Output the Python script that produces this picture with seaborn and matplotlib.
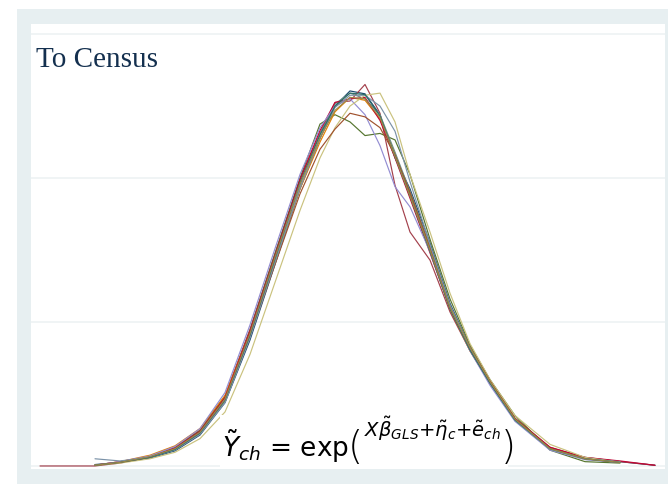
import numpy as np
import pandas as pd
import seaborn as sns
import matplotlib.pyplot as plt
from matplotlib.patches import Rectangle

nan = np.nan

# x grid (standardised log welfare) shared by all simulated densities
x_vals = [-3.30, -2.75, -2.50, -2.20, -1.95, -1.70, -1.45, -1.20, -0.95, -0.70, -0.50, -0.35, -0.20,
          -0.05, 0.10, 0.25, 0.40, 0.60, 0.80, 1.00, 1.20, 1.45, 1.80, 2.15, 2.50, 2.85]

navy = [nan, 0.002, 0.005, 0.011, 0.021, 0.043, 0.088, 0.175, 0.280, 0.385, 0.455, 0.500, 0.521,
        0.517, 0.488, 0.428, 0.385, 0.310, 0.226, 0.165, 0.118, 0.066, 0.025, 0.012, 0.006, 0.001]
maroon = [0.000, 0.000, 0.004, 0.013, 0.026, 0.050, 0.097, 0.190, 0.295, 0.398, 0.462, 0.505, 0.507,
          0.530, 0.490, 0.390, 0.325, 0.286, 0.214, 0.160, 0.115, 0.066, 0.026, 0.011, 0.006, 0.001]
green = [nan, 0.001, 0.005, 0.013, 0.025, 0.049, 0.096, 0.188, 0.295, 0.400, 0.475, 0.488, 0.478,
         0.459, 0.462, 0.453, 0.405, 0.315, 0.232, 0.168, 0.120, 0.070, 0.022, 0.006, 0.004, nan]
orange = [nan, 0.001, 0.006, 0.015, 0.028, 0.052, 0.098, 0.186, 0.284, 0.385, 0.450, 0.492, 0.512,
          0.508, 0.482, 0.434, 0.378, 0.300, 0.218, 0.160, 0.115, 0.064, 0.025, 0.011, 0.006, nan]
teal = [nan, 0.0015, 0.005, 0.012, 0.023, 0.045, 0.090, 0.180, 0.287, 0.390, 0.462, 0.503, 0.518,
        0.510, 0.488, 0.436, 0.382, 0.305, 0.222, 0.163, 0.116, 0.064, 0.023, 0.009, 0.005, nan]
cranberry = [nan, 0.001, 0.006, 0.013, 0.025, 0.048, 0.095, 0.187, 0.292, 0.398, 0.466, 0.505, 0.510,
             0.512, 0.480, 0.428, 0.372, 0.296, 0.219, 0.162, 0.118, 0.066, 0.026, 0.012, 0.007, 0.001]
lavender = [nan, 0.001, 0.006, 0.014, 0.027, 0.052, 0.102, 0.196, 0.302, 0.405, 0.470, 0.500, 0.510,
            0.488, 0.445, 0.388, 0.360, 0.298, 0.220, 0.160, 0.112, 0.062, 0.022, 0.009, 0.005, nan]
khaki = [nan, 0.001, 0.004, 0.010, 0.019, 0.038, 0.075, 0.155, 0.255, 0.355, 0.428, 0.470, 0.500,
         0.515, 0.518, 0.478, 0.405, 0.325, 0.240, 0.170, 0.120, 0.070, 0.030, 0.012, 0.005, nan]
sienna = [nan, 0.001, 0.005, 0.012, 0.024, 0.046, 0.092, 0.180, 0.280, 0.378, 0.440, 0.468, 0.490,
          0.485, 0.470, 0.432, 0.380, 0.303, 0.222, 0.165, 0.118, 0.066, 0.024, 0.010, 0.005, nan]
emidblue = [nan, 0.010, 0.007, 0.012, 0.022, 0.044, 0.088, 0.178, 0.283, 0.386, 0.455, 0.498, 0.515,
            0.515, 0.500, 0.465, 0.395, 0.308, 0.224, 0.164, 0.116, 0.063, 0.023, 0.010, 0.006, nan]
emerald = [nan, 0.001, 0.005, 0.012, 0.023, 0.046, 0.092, 0.182, 0.288, 0.394, 0.460, 0.500, 0.518,
           0.516, 0.486, 0.430, 0.375, 0.298, 0.218, 0.161, 0.115, 0.064, 0.024, 0.010, 0.005, nan]
brown = [nan, 0.001, 0.005, 0.013, 0.024, 0.047, 0.093, 0.184, 0.290, 0.392, 0.456, 0.494, 0.512,
         0.510, 0.484, 0.430, 0.375, 0.300, 0.220, 0.164, 0.117, 0.065, 0.024, 0.010, 0.005, nan]

runs = {"navy": navy, "maroon": maroon, "green": green, "orange": orange, "teal": teal,
        "cranberry": cranberry, "lavender": lavender, "khaki": khaki, "sienna": sienna,
        "emidblue": emidblue, "emerald": emerald, "brown": brown}

farger = {"navy": "#1a476f", "maroon": "#a3404c", "green": "#55752f", "orange": "#e37e00",
          "teal": "#6e8e84", "cranberry": "#c10534", "lavender": "#938dd2", "khaki": "#cac27e",
          "sienna": "#a0522d", "emidblue": "#7b92a8", "emerald": "#2d6d66", "brown": "#9c8847"}

rader = []
for namn, vals in runs.items():
    for xv, yv in zip(x_vals, vals):
        rader.append({"x": xv, "density": yv, "run": namn})
df = pd.DataFrame(rader).dropna()

sns.set_style("white")
plt.rcParams["mathtext.fontset"] = "dejavusans"

W, H = 668, 485
fig = plt.figure(figsize=(6.68, 4.85), dpi=100)
fig.patch.set_facecolor("white")
# grey slide frame behind the plot
fig.add_artist(Rectangle((17 / W, 0), 651 / W, 475 / H, transform=fig.transFigure,
                         facecolor="#e7eff1", edgecolor="none", zorder=-5))

ax = fig.add_axes([31 / W, 15 / H, 634 / W, 445 / H])
ax.set_zorder(1)
ax.set_facecolor("white")
for yg in [0, 0.2, 0.4, 0.6]:
    ax.axhline(yg, color="#edf2f3", lw=1.2, zorder=0)

sns.lineplot(data=df, x="x", y="density", hue="run", palette=farger, estimator=None,
             sort=False, legend=False, lw=0.85, ax=ax)

ax.set_xlim(-3.39, 2.95)
ax.set_ylim(-0.0042, 0.614)
ax.set_xlabel("")
ax.set_ylabel("")
ax.set_xticks([])
ax.set_yticks([])
sns.despine(ax=ax, left=True, bottom=True)

fig.text(36 / W, 1 - 67 / H, "To Census", fontsize=21, family="Liberation Serif",
         color="#14304f", va="baseline", ha="left", zorder=10)

# formula: white box, then pieces placed one after another
fig.add_artist(Rectangle((220 / W, 1 - 468 / H), 288 / W, 52 / H, transform=fig.transFigure,
                         facecolor="white", edgecolor="none", zorder=10))
r = fig.canvas.get_renderer()
t1 = fig.text(222 / W, 1 - 457 / H, r"$\tilde{Y}_{ch}$ = exp", fontsize=19, color="black",
              va="baseline", ha="left", zorder=11)
x_next = t1.get_window_extent(r).x1 - 1
t2 = fig.text(x_next / W, 1 - 459 / H, "(", fontsize=28, color="black", family="DejaVu Sans",
              fontweight="light", va="baseline", ha="left", zorder=11)
x_next = t2.get_window_extent(r).x1 + 0.5
t3 = fig.text(x_next / W, 1 - 437 / H,
              r"$X\tilde{\beta}_{GLS}{+}\tilde{\eta}_c{+}\tilde{e}_{ch}$",
              fontsize=14, color="black", va="baseline", ha="left", zorder=11)
x_next = t3.get_window_extent(r).x1 + 0.5
fig.text(x_next / W, 1 - 459 / H, ")", fontsize=28, color="black", family="DejaVu Sans",
         fontweight="light", va="baseline", ha="left", zorder=11)

fig.savefig("out.png", dpi=100)
